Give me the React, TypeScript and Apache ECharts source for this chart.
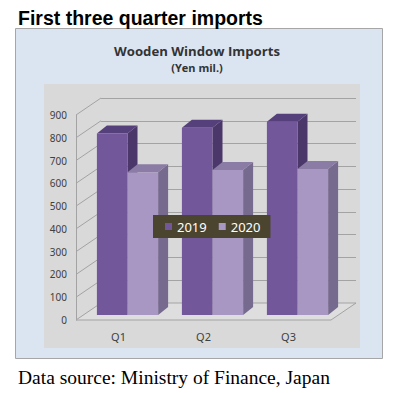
import React, { useEffect, useRef } from "react";
import * as echarts from "echarts";

const categories = ["Q1", "Q2", "Q3"];
const seriesNames = ["2019", "2020"];
const values2019 = [797, 822, 848];
const values2020 = [627, 637, 641];
const yTicks = [0, 100, 200, 300, 400, 500, 600, 700, 800, 900];
const Y_MIN = 0;
const Y_MAX = 900;
const Y_INTERVAL = 100;

// 3D look
const WALL_DX = 25;
const WALL_DY = -17;
const BAR_SHIFT_X = 9;
const BAR_SHIFT_Y = -5;
const BOX_DX = 10;
const BOX_DY = -8;
const BAR_FRAC = 0.36;

const COLORS = [
  { front: "#72589a", side: "#4b376a", top: "#56407c" },
  { front: "#a797c2", side: "#766a8e", top: "#8a7ca4" },
];

function makeBarRender(sIdx: number) {
  const c = COLORS[sIdx];
  return (params: any, api: any) => {
    const idx = api.value(0);
    const val = api.value(1);
    const topPt = api.coord([idx, val]);
    const basePt = api.coord([idx, 0]);
    const band = api.size([1, 0])[0];
    const w = band * BAR_FRAC;
    const x0 = topPt[0] + BAR_SHIFT_X - w + sIdx * w;
    const x1 = x0 + w;
    const yT = topPt[1] + BAR_SHIFT_Y;
    const yB = basePt[1] + BAR_SHIFT_Y;
    return {
      type: "group",
      children: [
        {
          type: "polygon",
          shape: { points: [[x1, yT], [x1 + BOX_DX, yT + BOX_DY], [x1 + BOX_DX, yB + BOX_DY], [x1, yB]] },
          style: { fill: c.side },
        },
        {
          type: "polygon",
          shape: { points: [[x0, yT], [x0 + BOX_DX, yT + BOX_DY], [x1 + BOX_DX, yT + BOX_DY], [x1, yT]] },
          style: { fill: c.top },
        },
        {
          type: "polygon",
          shape: { points: [[x0, yT], [x1, yT], [x1, yB], [x0, yB]] },
          style: { fill: c.front },
        },
      ],
    };
  };
}

function wallRender(params: any, api: any) {
  const v = api.value(1);
  const p = api.coord([0, v]);
  const band = api.size([1, 0])[0];
  const left = p[0] - band / 2;
  const children: any[] = [];
  if (v === 0) {
    const right = api.coord([categories.length - 1, 0])[0] + band / 2;
    children.push({
      type: "polygon",
      shape: {
        points: [
          [left, p[1]],
          [right, p[1]],
          [right + WALL_DX, p[1] + WALL_DY],
          [left + WALL_DX, p[1] + WALL_DY],
        ],
      },
      style: { fill: "#dedede", stroke: "#a3a3a3", lineWidth: 1 },
    });
  } else {
    children.push({
      type: "line",
      shape: { x1: left, y1: p[1], x2: left + WALL_DX, y2: p[1] + WALL_DY },
      style: { stroke: "#a3a3a3", lineWidth: 1 },
    });
  }
  return { type: "group", children };
}

export default function App() {
  const ref = useRef<HTMLDivElement>(null);
  useEffect(() => {
    if (!ref.current) return;
    const chart = echarts.init(ref.current, null, { renderer: "svg" });
    const frontGrid = { left: 76, top: 115, width: 255, height: 205 };
    const backGrid = {
      left: 76 + WALL_DX,
      top: 115 + WALL_DY,
      width: 255,
      height: 205,
    };
    chart.setOption({
      animation: false,
      backgroundColor: "#ffffff",
      title: [
        {
          text: "First three quarter imports",
          left: 13,
          top: 3,
          textStyle: { fontFamily: "Liberation Sans", fontWeight: "bold", fontSize: 19.5, color: "#000" },
        },
        {
          text: "Wooden Window Imports",
          left: "center",
          top: 39,
          textStyle: { fontFamily: "Open Sans", fontWeight: "bold", fontSize: 13.2, color: "#333" },
        },
        {
          text: "(Yen mil.)",
          left: "center",
          top: 57,
          textStyle: { fontFamily: "Open Sans", fontWeight: "bold", fontSize: 11, color: "#333" },
        },
        {
          text: "Data source: Ministry of Finance, Japan",
          left: 13,
          top: 362,
          textStyle: { fontFamily: "Liberation Serif", fontWeight: "normal", fontSize: 19.5, color: "#000" },
        },
      ],
      graphic: [
        {
          type: "rect",
          z: -10,
          shape: { x: 15.5, y: 28.5, width: 367, height: 330 },
          style: { fill: "#dbe5f1", stroke: "#a6a6a6", lineWidth: 1 },
          silent: true,
        },
        {
          type: "rect",
          z: -9,
          shape: { x: 44, y: 84, width: 316, height: 264 },
          style: { fill: "#d9d9d9" },
          silent: true,
        },
      ],
      legend: {
        data: seriesNames,
        left: 153,
        top: 215,
        padding: [5, 10, 5, 12],
        backgroundColor: "#4b4530",
        itemWidth: 7,
        itemHeight: 7,
        itemGap: 12,
        icon: "rect",
        textStyle: { color: "#ffffff", fontSize: 13, fontFamily: "Noto Sans" },
      },
      grid: [
        { ...frontGrid, containLabel: false },
        { ...backGrid, containLabel: false },
      ],
      xAxis: [
        {
          type: "category",
          gridIndex: 0,
          data: categories,
          axisLine: { show: false },
          axisTick: { show: false },
          axisLabel: { color: "#404040", fontSize: 11, fontFamily: "Noto Sans", margin: 11 },
          splitLine: { show: false },
        },
        {
          type: "category",
          gridIndex: 1,
          data: categories,
          show: false,
        },
      ],
      yAxis: [
        {
          type: "value",
          gridIndex: 0,
          min: Y_MIN,
          max: Y_MAX,
          interval: Y_INTERVAL,
          axisLine: { show: true, lineStyle: { color: "#a3a3a3" } },
          axisTick: { show: false },
          axisLabel: { color: "#404040", fontSize: 10, fontFamily: "Noto Sans", margin: 9 },
          splitLine: { show: false },
        },
        {
          type: "value",
          gridIndex: 1,
          min: Y_MIN,
          max: Y_MAX,
          interval: Y_INTERVAL,
          axisLine: { show: false },
          axisTick: { show: false },
          axisLabel: { show: false },
          splitLine: { show: true, lineStyle: { color: "#a3a3a3", width: 1 } },
        },
      ],
      series: [
        {
          type: "custom",
          name: "wall",
          xAxisIndex: 0,
          yAxisIndex: 0,
          z: 1,
          silent: true,
          clip: false,
          renderItem: wallRender,
          data: yTicks.map((v) => [0, v]),
          encode: { x: 0, y: 1 },
        },
        {
          type: "custom",
          name: seriesNames[0],
          xAxisIndex: 0,
          yAxisIndex: 0,
          z: 2,
          clip: false,
          itemStyle: { color: COLORS[0].front },
          renderItem: makeBarRender(0),
          data: values2019.map((v, i) => [i, v]),
          encode: { x: 0, y: 1 },
        },
        {
          type: "custom",
          name: seriesNames[1],
          xAxisIndex: 0,
          yAxisIndex: 0,
          z: 3,
          clip: false,
          itemStyle: { color: COLORS[1].front },
          renderItem: makeBarRender(1),
          data: values2020.map((v, i) => [i, v]),
          encode: { x: 0, y: 1 },
        },
      ],
    });
    return () => chart.dispose();
  }, []);
  return (
    <div
      ref={ref}
      style={{ position: "absolute", left: 0, top: 0, width: 394, height: 393 }}
    />
  );
}
